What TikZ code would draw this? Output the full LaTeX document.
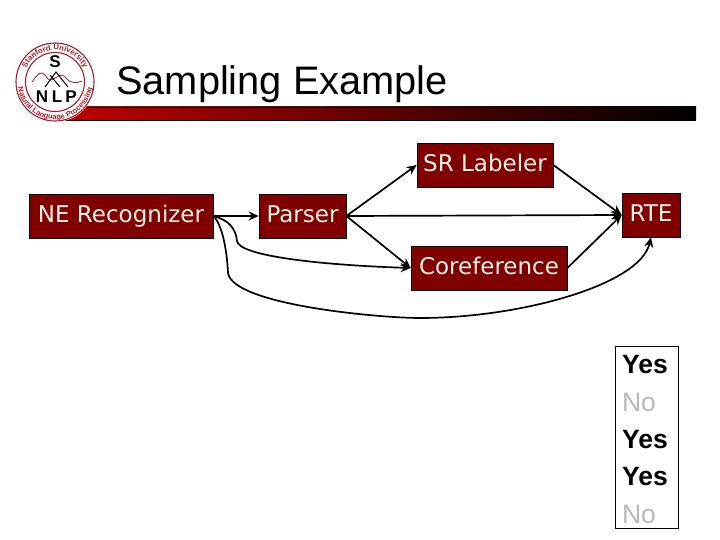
\documentclass[tikz,border=0pt]{standalone}
\usepackage{xcolor}
\usepackage{fontspec}
\setmainfont{Liberation Sans}
\newfontfamily\boxfont{DejaVu Sans}
\usetikzlibrary{arrows.meta, decorations.text}
\definecolor{NLPMaroon}{RGB}{128, 0, 0}
\definecolor{NLPRed}{RGB}{190, 0, 0}
\definecolor{NLPLogo}{RGB}{165, 30, 45}
\definecolor{NLPCream}{RGB}{250, 240, 230}
\definecolor{NLPGray}{RGB}{185, 185, 185}
\tikzset{
  stageBox/.style={draw=black, line width=0.7pt, fill=NLPMaroon, text=NLPCream, inner sep=0pt,
    text height=19pt, text depth=6pt, font=\fontsize{23}{25}\selectfont\boxfont},
  flowLine/.style={draw=black, line width=1.7pt, -{Stealth[length=10pt,width=9pt]}},
  answerYes/.style={font=\fontsize{26.5}{28}\selectfont\bfseries, text=black},
  answerNo/.style={font=\fontsize{26.5}{28}\selectfont, text=NLPGray},
}
\begin{document}
\begin{tikzpicture}[x=1pt,y=-1pt]
  \path[use as bounding box] (0,0) rectangle (720,540);
  \fill[white] (0,0) rectangle (720,540);

  \shade[left color=NLPRed, middle color=NLPRed!85!black, right color=black] (65,107) rectangle (696,120);
  \draw[black, line width=0.6pt] (65,107) -- (696,107);
  \draw[black, line width=0.6pt] (65,120) -- (696,120);

  \fill[white] (55,82) circle (40);
  \draw[NLPLogo, line width=1.1pt] (55,82) circle (39);
  \draw[NLPLogo, line width=1.1pt] (55,82) circle (29.5);
  \path[decorate, decoration={text along path, text align=center,
    text={|\fontsize{7.8}{9}\selectfont\bfseries\color{NLPLogo}|Stanford University}}]
    (23,82) arc[start angle=180, end angle=360, radius=32];
  \path[decorate, decoration={text along path, text align=center,
    text={|\fontsize{7.5}{8}\selectfont\bfseries\color{NLPLogo}|Natural Language Processing}}]
    (17.5,82) arc[start angle=180, end angle=0, radius=37.5];
  \draw[NLPLogo, line width=0.8pt] (32,82) .. controls (36,76) and (39,73) .. (42,73)
    .. controls (46,74) and (47,80) .. (50,80) .. controls (54,80) and (58,75) .. (62,75)
    .. controls (66,76) and (68,82) .. (72,82) .. controls (76,83) and (79,83) .. (82,81);
  \draw[black, line width=1pt] (45,87) -- (56,72) -- (68,87);
  \draw[black, line width=1pt] (50,75) -- (60,87);
  \node (letterS) at (55,62) {\fontsize{17}{17}\selectfont\bfseries S};
  \node (letterN) at (42,97) {\fontsize{17}{17}\selectfont\bfseries N};
  \node (letterL) at (57,97) {\fontsize{17}{17}\selectfont\bfseries L};
  \node (letterP) at (71,97) {\fontsize{17}{17}\selectfont\bfseries P};

  \node[anchor=base west, inner sep=0pt] (slideTitle) at (116,95) {\fontsize{39.8}{42}\selectfont Sampling Example};

  \node[stageBox, minimum width=184pt, minimum height=44pt] (neBox) at (121,216) {NE Recognizer};
  \node[stageBox, minimum width=87pt, minimum height=44pt] (parserBox) at (302.5,216) {Parser};
  \node[stageBox, minimum width=136pt, minimum height=44pt] (srBox) at (485,165) {SR Labeler};
  \node[stageBox, minimum width=156pt, minimum height=44pt] (corefBox) at (489,268) {Coreference};
  \node[stageBox, minimum width=58pt, minimum height=44pt] (rteBox) at (651,215) {RTE};

  \draw[flowLine] (neBox.east) -- (parserBox.west);
  \draw[flowLine] (parserBox.east) -- (srBox.west);
  \draw[flowLine] (parserBox.east) -- (rteBox.west);
  \draw[flowLine] (parserBox.east) -- (corefBox.west);
  \draw[flowLine] (srBox.east) -- (rteBox.west);
  \draw[flowLine] (corefBox.east) -- (rteBox.west);
  \draw[flowLine] (neBox.east) .. controls (229,220) and (236,229) .. (237,241)
    .. controls (239,256) and (320,265) .. (corefBox.west);
  \draw[flowLine] (neBox.east) .. controls (222,224) and (227,250) .. (228,273)
    .. controls (233,305) and (380,318) .. (420,318)
    .. controls (520,318) and (640,285) .. (rteBox.south);

  \draw[black, line width=0.7pt, fill=white] (615,346) rectangle (678,528);
  \node[answerYes] (answerOne) at (645,365) {Yes};
  \node[answerNo] (answerTwo) at (639,403) {No};
  \node[answerYes] (answerThree) at (645,440) {Yes};
  \node[answerYes] (answerFour) at (645,477) {Yes};
  \node[answerNo] (answerFive) at (639,515) {No};
\end{tikzpicture}
\end{document}
